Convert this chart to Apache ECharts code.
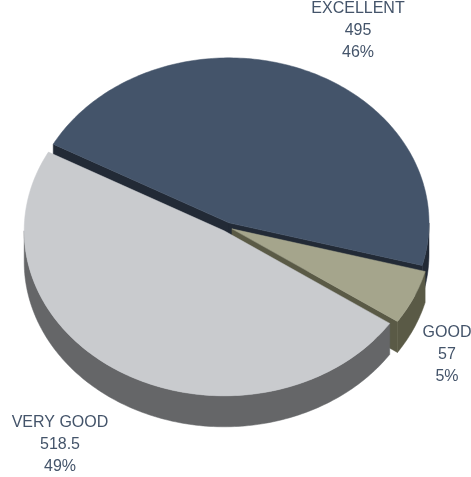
<!DOCTYPE html>
<html>
<head>
<meta charset="utf-8">
<script src="https://cdn.jsdelivr.net/npm/echarts@6/dist/echarts.min.js"></script>
<style>
  html, body { margin: 0; padding: 0; background: #ffffff; }
  #chart { width: 471px; height: 477px; }
</style>
</head>
<body>
<div id="chart"></div>
<script>
// Survey ratings
const categories = ['EXCELLENT', 'GOOD', 'VERY GOOD'];
const values = [495, 57, 518.5];
const percentLabels = ['46%', '5%', '49%'];

// Slice colours: top faces and darker side walls
const topColors = ['#44546a', '#a5a58c', '#c9cbce'];
const sideColors = ['#222a36', '#5a5a46', '#656668'];

// Tilted-disc geometry
const pie = { cx: 227, cy: 227, rx: 200, ry: 165, depth: 31, explode: 5.4, startDeg: 208.5 };

// Label block centres (middle line) for each slice
const labelAnchors = [[358, 31], [447, 355], [60, 445]];
const labelLineGap = 22;

const total = values.reduce((a, b) => a + b, 0);
const slices = [];
let acc = pie.startDeg;
values.forEach(v => {
  const span = v / total * 360;
  slices.push({ start: acc, end: acc + span });
  acc += span;
});

const rad = d => d * Math.PI / 180;

function rimPoint(c, deg, dy) {
  return [c[0] + pie.rx * Math.cos(rad(deg)), c[1] + pie.ry * Math.sin(rad(deg)) + (dy || 0)];
}

function arc(c, a0, a1, dy) {
  const n = Math.max(2, Math.ceil(Math.abs(a1 - a0)));
  const pts = [];
  for (let k = 0; k <= n; k++) pts.push(rimPoint(c, a0 + (a1 - a0) * k / n, dy));
  return pts;
}

// Angular runs of a slice whose outer wall faces the viewer (lower half of the ellipse)
function frontRuns(a0, a1) {
  const runs = [];
  for (let k = Math.floor(a0 / 360) - 1; k <= Math.floor(a1 / 360) + 1; k++) {
    const lo = Math.max(a0, 360 * k), hi = Math.min(a1, 360 * k + 180);
    if (hi > lo) runs.push([lo, hi]);
  }
  return runs;
}

function renderItem(params, api) {
  const i = params.dataIndex;
  const s = slices[i];
  const mid = (s.start + s.end) / 2;
  const c = [
    pie.cx + pie.explode * Math.cos(rad(mid)),
    pie.cy + pie.explode * Math.sin(rad(mid)) * pie.ry / pie.rx
  ];
  const d = pie.depth;
  const layer = Math.round((Math.sin(rad(mid)) + 1) * 100) * 10;
  const children = [];

  // outer wall
  frontRuns(s.start, s.end).forEach(([lo, hi]) => {
    const pts = arc(c, lo, hi, 0).concat(arc(c, lo, hi, d).reverse());
    children.push({ type: 'polygon', z2: layer + 1, shape: { points: pts },
      style: { fill: sideColors[i], stroke: sideColors[i], lineWidth: 0.5 } });
  });

  // radial cut faces
  const cutFace = deg => {
    const p = rimPoint(c, deg, 0);
    return [c, p, [p[0], p[1] + d], [c[0], c[1] + d]];
  };
  if (Math.cos(rad(s.start)) < 0) {
    children.push({ type: 'polygon', z2: layer + 2, shape: { points: cutFace(s.start) },
      style: { fill: sideColors[i], stroke: sideColors[i], lineWidth: 0.5 } });
  }
  if (Math.cos(rad(s.end)) > 0) {
    children.push({ type: 'polygon', z2: layer + 2, shape: { points: cutFace(s.end) },
      style: { fill: sideColors[i], stroke: sideColors[i], lineWidth: 0.5 } });
  }

  // top face
  const top = [c].concat(arc(c, s.start, s.end, 0));
  children.push({ type: 'polygon', z2: layer + 5, shape: { points: top },
    style: { fill: topColors[i], stroke: topColors[i], lineWidth: 0.5 } });

  return { type: 'group', children: children };
}

// Data labels: name, value, percentage
const labelFont = '16px "Liberation Sans", Arial, sans-serif';
const labelColor = '#44546a';
const graphicTexts = [];
categories.forEach((name, i) => {
  const lines = [name, String(values[i]), percentLabels[i]];
  lines.forEach((t, k) => {
    graphicTexts.push({
      type: 'text',
      x: labelAnchors[i][0],
      y: labelAnchors[i][1] + (k - 1) * labelLineGap,
      style: {
        text: t, font: labelFont, fill: labelColor,
        align: 'center', verticalAlign: 'middle',
        textAlign: 'center', textVerticalAlign: 'middle'
      }
    });
  });
});

const chart = echarts.init(document.getElementById('chart'), null, { renderer: 'canvas' });
chart.setOption({
  backgroundColor: '#ffffff',
  animation: false,
  series: [{
    type: 'custom',
    coordinateSystem: 'none',
    renderItem: renderItem,
    data: values.map((v, i) => ({ name: categories[i], value: v }))
  }],
  graphic: { elements: graphicTexts }
});
</script>
</body>
</html>
